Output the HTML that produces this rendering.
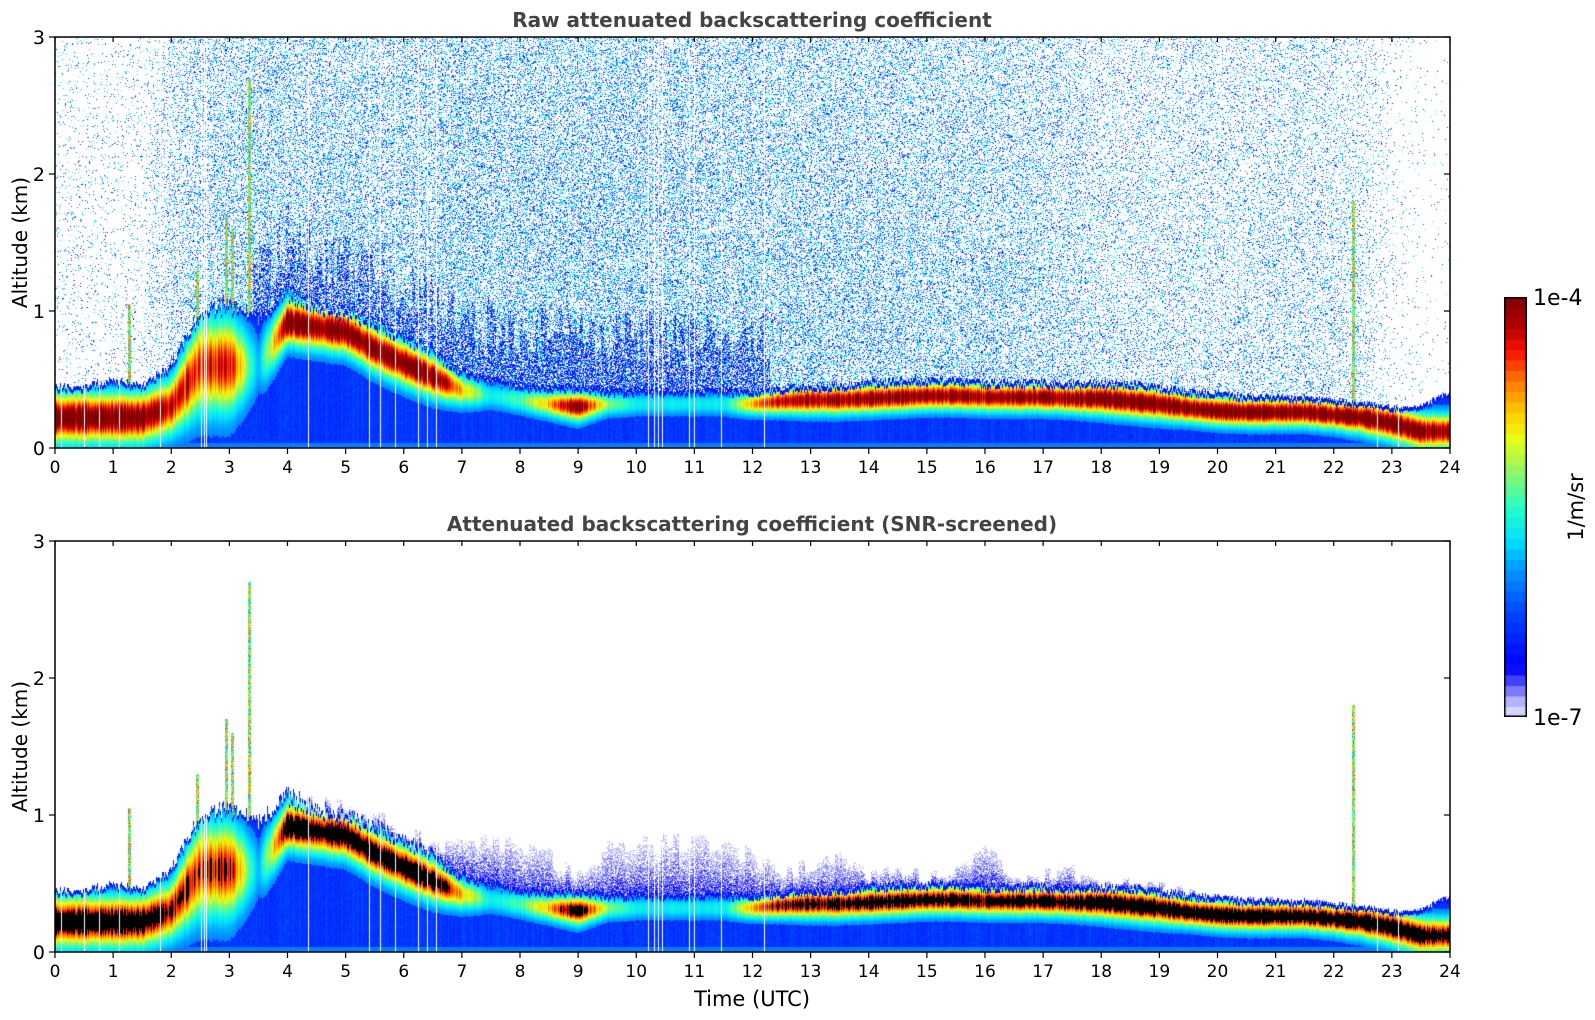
<!DOCTYPE html>
<html><head><meta charset="utf-8">
<style>
html,body{margin:0;padding:0;background:#fff;}
#root{position:relative;width:1595px;height:1020px;overflow:hidden;font-family:"DejaVu Sans","Liberation Sans",sans-serif;}
canvas{position:absolute;}
svg{position:absolute;left:0;top:0;}
</style></head>
<body>
<div id="root">
<canvas id="c1" width="1395" height="411" style="left:55px;top:37px"></canvas>
<canvas id="c2" width="1395" height="411" style="left:55px;top:541px"></canvas>
<canvas id="cb" width="23" height="420" style="left:1504px;top:297px"></canvas>
<svg id="ov" width="1595" height="1020"></svg>
</div>
<script>
// ---- data (half-hour resolution, 0..24 h) ----
const times = [0,0.5,1,1.5,2,2.5,3,3.5,4,4.5,5,5.5,6,6.5,7,7.5,8,8.5,9,9.5,10,10.5,11,11.5,12,12.5,13,13.5,14,14.5,15,15.5,16,16.5,17,17.5,18,18.5,19,19.5,20,20.5,21,21.5,22,22.5,23,23.5,24];
const mixTop = [0.45,0.45,0.5,0.45,0.6,1.0,1.05,0.95,1.15,1.05,1.0,0.92,0.82,0.72,0.56,0.5,0.45,0.45,0.45,0.42,0.42,0.42,0.42,0.42,0.42,0.44,0.45,0.46,0.48,0.5,0.5,0.5,0.48,0.48,0.48,0.48,0.48,0.47,0.45,0.42,0.4,0.38,0.38,0.37,0.35,0.33,0.3,0.3,0.42];
const layerAlt = [0.22,0.22,0.22,0.22,0.3,0.6,0.6,0.6,0.92,0.88,0.85,0.72,0.62,0.52,0.42,0.38,0.35,0.32,0.3,0.32,0.32,0.32,0.32,0.32,0.32,0.34,0.35,0.35,0.36,0.37,0.38,0.38,0.37,0.37,0.37,0.36,0.36,0.34,0.32,0.29,0.27,0.26,0.26,0.26,0.24,0.22,0.18,0.12,0.12];
const layerWidth = [0.16,0.16,0.16,0.16,0.18,0.3,0.3,0.2,0.14,0.14,0.14,0.14,0.14,0.13,0.1,0.08,0.08,0.08,0.09,0.07,0.07,0.07,0.07,0.07,0.07,0.08,0.09,0.09,0.09,0.09,0.09,0.09,0.09,0.09,0.09,0.09,0.1,0.1,0.1,0.09,0.09,0.09,0.09,0.09,0.09,0.1,0.11,0.11,0.11];
const layerStrength = [1,1,1,1,0.85,0.75,0.85,0.1,1,1,1,1,1,1,0.6,0.2,0.3,0.6,1,0.4,0.2,0.2,0.2,0.2,0.6,0.9,0.9,0.9,0.95,0.95,0.95,0.95,0.9,0.95,0.95,0.95,1,1,1,1,1,1,1,1,1,1,1,1,0.9];
const noiseDensity = [0.07,0.06,0.07,0.07,0.2,0.3,0.32,0.35,0.35,0.35,0.35,0.35,0.36,0.36,0.38,0.38,0.38,0.38,0.38,0.38,0.38,0.38,0.38,0.36,0.35,0.35,0.35,0.33,0.33,0.32,0.32,0.31,0.31,0.29,0.27,0.24,0.2,0.19,0.19,0.19,0.19,0.19,0.19,0.19,0.18,0.14,0.05,0.02,0.01];
const hazeTop = [0,0,0,0,0,0,0,0,1.1,1.1,1.05,0.95,0.85,0.8,0.75,0.8,0.8,0.7,0.55,0.75,0.8,0.8,0.8,0.75,0.7,0.55,0.65,0.7,0.55,0.6,0.55,0.6,0.75,0.55,0.55,0.6,0.5,0.5,0.47,0.44,0.4,0.38,0.38,0.37,0.35,0.33,0.3,0.3,0.42];
const gapTimes = [0.1,0.5,0.75,1.1,1.8,2.52,2.57,2.6,4.35,5.4,5.6,5.85,6.25,6.4,6.55,10.2,10.3,10.38,10.45,10.9,11.0,11.45,12.2,22.75,23.1];
const plumeTimes = [1.27,2.45,2.95,3.05,3.33,22.33];
const plumeTops = [1.05,1.3,1.7,1.6,2.7,1.8];
const xTicks = [0,1,2,3,4,5,6,7,8,9,10,11,12,13,14,15,16,17,18,19,20,21,22,23,24];
const yTicks = [0,1,2,3];

const W=1395,H=411,ZMAX=3,TMAX=24;
const xScale=t=>t/TMAX*W;
const yScale=z=>H-z/ZMAX*H;
function interp(arr,t){const i=Math.min(times.length-2,Math.floor(t/0.5));const f=(t-times[i])/0.5;return arr[i]*(1-f)+arr[i+1]*f;}
function hash(a,b){let h=(a*374761393+b*668265263)|0;h=(h^(h>>>13))*1274126177|0;h=h^(h>>>16);return (h>>>0)/4294967296;}
const stops=[[0,[232,232,250]],[0.04,[176,176,255]],[0.08,[80,80,255]],[0.12,[0,0,255]],[0.25,[0,70,255]],[0.35,[0,150,255]],[0.42,[0,225,255]],[0.5,[40,255,200]],[0.58,[140,245,110]],[0.66,[230,255,20]],[0.72,[255,210,0]],[0.8,[255,120,0]],[0.87,[250,20,0]],[0.93,[180,0,0]],[1,[128,0,0]]];
function cmap(v){v=Math.max(0,Math.min(1,v));for(let i=1;i<stops.length;i++){if(v<=stops[i][0]){const a=stops[i-1],b=stops[i];const f=(v-a[0])/(b[0]-a[0]);return [a[1][0]+(b[1][0]-a[1][0])*f,a[1][1]+(b[1][1]-a[1][1])*f,a[1][2]+(b[1][2]-a[1][2])*f];}}return stops[stops.length-1][1];}

function draw(id,screened){
  const ctx=document.getElementById(id).getContext('2d');
  const img=ctx.createImageData(W,H);const d=img.data;
  const gapPx=gapTimes.map(t=>Math.round(xScale(t)));
  for(let x=0;x<W;x++){
    const t=(x+0.5)/W*TMAX;
    const colJ=hash(x,7)-0.5;
    const top=interp(mixTop,t)*(1+0.12*colJ);
    const la=interp(layerAlt,t), lw=interp(layerWidth,t), ls=interp(layerStrength,t)*(0.85+0.3*hash(x,11));
    const nd=interp(noiseDensity,t), ht=interp(hazeTop,t)*(1+0.2*(hash(Math.floor(x/6),3)-0.5));
    const nearH=0.15+0.45*hash(Math.floor(x/3),17);
    let plume=0;for(let k=0;k<plumeTimes.length;k++){if(Math.abs(xScale(plumeTimes[k])-x)<1.5)plume=plumeTops[k];}
    const isGap=gapPx.includes(x);
    for(let y=0;y<H;y++){
      const z=(H-y-0.5)/H*ZMAX;let v=-1;
      const r=hash(x,y);
      if(z<top){
        v=0.22+0.06*(r-0.5)+0.05*colJ;
        if(z<0.04) v=0.32;
        const g=ls*Math.exp(-Math.pow((z-la)/lw,2));
        if(g>0.04) v=Math.max(v,0.3+0.75*g);
        if(z>top-0.03) v=Math.min(v,0.16);
      } else if(z<plume){
        v=0.35+0.5*r;
      } else if(!screened){
        const near=(z<top+nearH&&t>3.4&&t<12.3);
        const dens=nd*(1-0.3*z/ZMAX)*(near?1.8:1);
        if(r<dens) v=near&&r<dens*0.6?0.13+0.08*hash(y,x+5):0.14+0.36*hash(y,x+5);
        else if(r<dens*1.1) v=0.02;
      } else {
        if(z<ht && t>3.4){const f=(ht-z)/(ht-top+0.01);if(r<0.35+0.65*f) v=0.03+0.12*f*hash(y,x+9);}
      }
      const i=(y*W+x)*4;
      if(v<0||isGap){d[i]=d[i+1]=d[i+2]=255;d[i+3]=255;continue;}
      let c;
      if(screened&&v>0.9) c=[0,0,0]; else c=cmap(v);
      d[i]=c[0];d[i+1]=c[1];d[i+2]=c[2];d[i+3]=255;
    }
  }
  ctx.putImageData(img,0,0);
}
draw('c1',false);
draw('c2',true);
// colorbar
(function(){const ctx=document.getElementById('cb').getContext('2d');const n=40;for(let k=0;k<n;k++){const c=cmap((k+0.5)/n);ctx.fillStyle=`rgb(${c[0]|0},${c[1]|0},${c[2]|0})`;const y0=420-(k+1)*420/n;ctx.fillRect(0,y0,23,420/n+0.5);}ctx.strokeStyle='#000';ctx.lineWidth=1.5;ctx.strokeRect(0.75,0.75,21.5,418.5);})();

// axes overlay
const NS='http://www.w3.org/2000/svg';const ov=document.getElementById('ov');
function el(tag,attrs,txt){const e=document.createElementNS(NS,tag);for(const k in attrs)e.setAttribute(k,attrs[k]);if(txt!==undefined)e.textContent=txt;ov.appendChild(e);return e;}
function axes(top,title,name){
  const L=55;
  const f=el('rect',{x:L,y:top,width:W,height:H,fill:'none',stroke:'#000','stroke-width':1.5});
  
  
  const tt=el('text',{x:752,y:top-10,'text-anchor':'middle','font-size':20,'font-weight':'bold',fill:'#444'},title);
  
  
  xTicks.forEach(t=>{const x=L+xScale(t);
    el('line',{x1:x,x2:x,y1:top+H,y2:top+H+6,stroke:'#000','stroke-width':1.2});
    el('line',{x1:x,x2:x,y1:top,y2:top+5,stroke:'#000','stroke-width':1.2});
    const lb=el('text',{x:x,y:top+H+25,'text-anchor':'middle','font-size':17,fill:'#000'},String(t));
    
    
  });
  yTicks.forEach(z=>{const y=top+yScale(z);
    el('line',{x1:L-6,x2:L,y1:y,y2:y,stroke:'#000','stroke-width':1.2});
    el('line',{x1:L+W-6,x2:L+W,y1:y,y2:y,stroke:'#000','stroke-width':1.2});
    const lb=el('text',{x:L-10,y:y+7,'text-anchor':'end','font-size':19,fill:'#000'},String(z));
    
    
  });
  const yl=el('text',{x:0,y:0,transform:`translate(27,${top+H/2}) rotate(-90)`,'text-anchor':'middle','font-size':20,fill:'#000'},'Altitude (km)');
  
  
}
axes(37,'Raw attenuated backscattering coefficient','raw-plot');
axes(541,'Attenuated backscattering coefficient (SNR-screened)','snr-plot');
const xt=el('text',{x:752,y:1006,'text-anchor':'middle','font-size':21,fill:'#000'},'Time (UTC)');


const c1=el('text',{x:1533,y:305,'font-size':22,fill:'#000'},'1e-4');


const c2=el('text',{x:1533,y:725,'font-size':22,fill:'#000'},'1e-7');


const cu=el('text',{x:0,y:0,transform:'translate(1583,507) rotate(-90)','text-anchor':'middle','font-size':21,fill:'#000'},'1/m/sr');


</script>
</body></html>
